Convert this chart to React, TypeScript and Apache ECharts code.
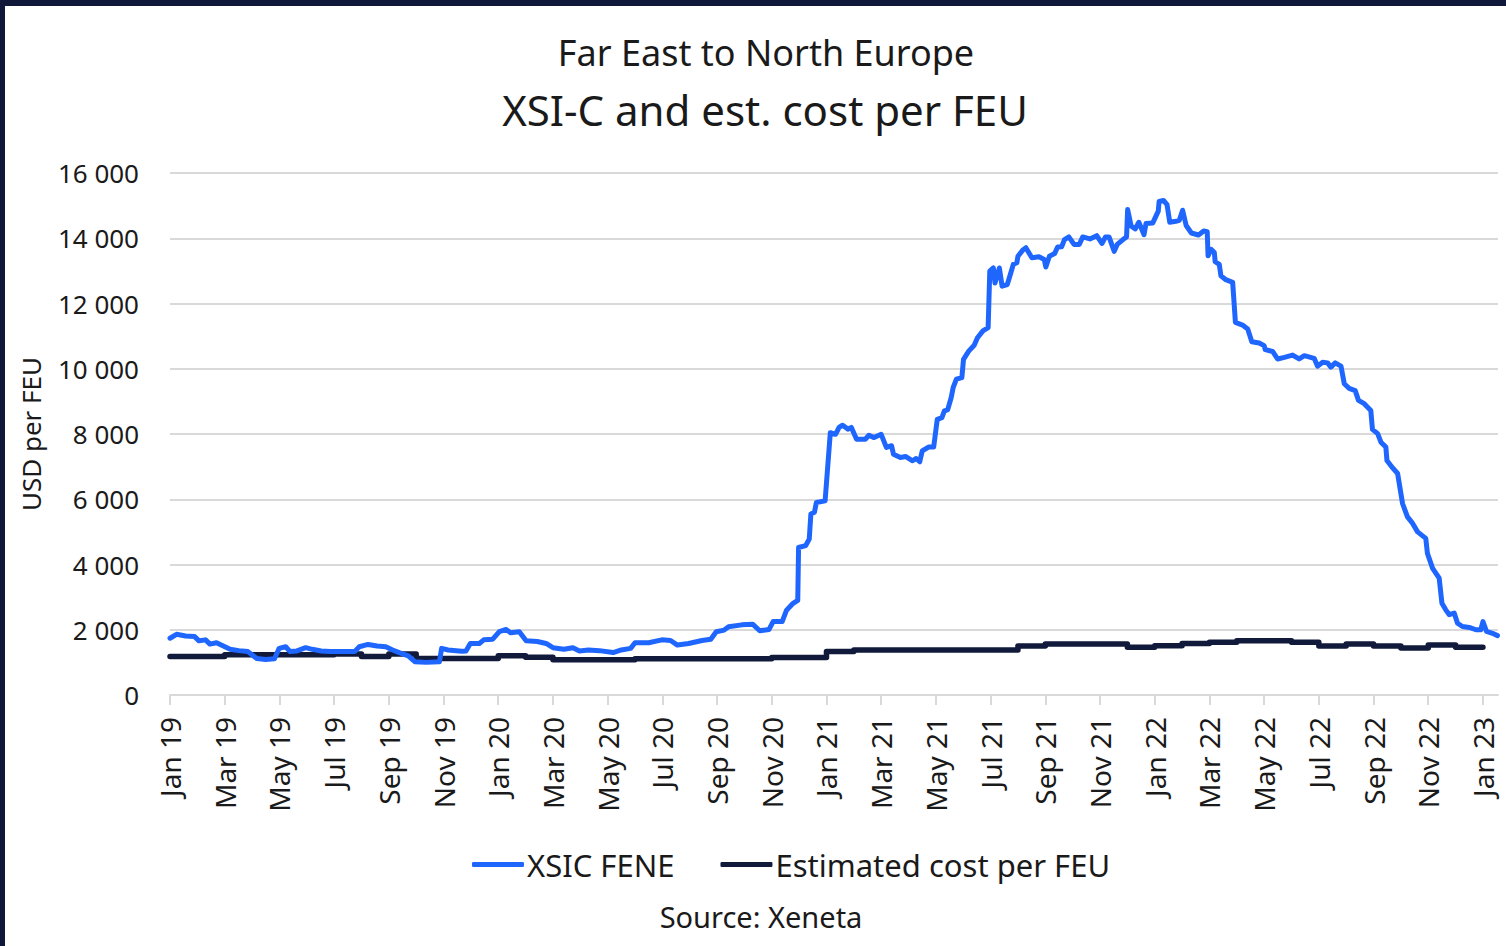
import React, { useEffect, useRef } from "react";
import * as echarts from "echarts";

// x positions are months since Jan 2019
const xTickMonths = [0, 2, 4, 6, 8, 10, 12, 14, 16, 18, 20, 22, 24, 26, 28, 30, 32, 34, 36, 38, 40, 42, 44, 46, 48];
const xTickLabels = [
  "Jan 19", "Mar 19", "May 19", "Jul 19", "Sep 19", "Nov 19",
  "Jan 20", "Mar 20", "May 20", "Jul 20", "Sep 20", "Nov 20",
  "Jan 21", "Mar 21", "May 21", "Jul 21", "Sep 21", "Nov 21",
  "Jan 22", "Mar 22", "May 22", "Jul 22", "Sep 22", "Nov 22",
  "Jan 23",
];

const xsicMonths = [
  0, 0.24, 0.57, 0.9, 1.06, 1.3, 1.46, 1.7, 1.95, 2.2, 2.52, 2.85, 3.17, 3.5, 3.82, 3.99, 4.23, 4.39, 4.64, 4.96,
  5.2, 5.53, 5.86, 6.27, 6.75, 6.92, 7.24, 7.57, 7.89, 8.14, 8.38, 8.71, 8.95, 9.36, 9.85, 9.93, 10.17, 10.66, 10.82, 10.98,
  11.31, 11.47, 11.8, 12.04, 12.29, 12.45, 12.77, 13.02, 13.43, 13.75, 14.0, 14.4, 14.73, 14.97, 15.3, 15.7, 16.2, 16.5, 16.84, 17.0,
  17.5, 17.98, 18.3, 18.55, 18.96, 19.45, 19.77, 19.97, 20.26, 20.42, 20.9, 21.3, 21.56, 21.9, 22.05, 22.38, 22.54, 22.78, 22.95, 22.98,
  23.24, 23.37, 23.43, 23.56, 23.63, 23.95, 24.14, 24.33, 24.46, 24.59, 24.78, 24.91, 25.1, 25.42, 25.55, 25.74, 26.0, 26.19, 26.38, 26.45,
  26.7, 26.9, 27.15, 27.28, 27.41, 27.5, 27.73, 27.92, 28.05, 28.22, 28.31, 28.43, 28.56, 28.63, 28.75, 28.95, 29.01, 29.2, 29.4, 29.52,
  29.72, 29.91, 29.97, 30.1, 30.16, 30.32, 30.42, 30.61, 30.74, 30.83, 30.96, 31.0, 31.19, 31.29, 31.51, 31.77, 31.96, 32.02, 32.15, 32.34,
  32.45, 32.6, 32.7, 32.86, 33.05, 33.24, 33.37, 33.63, 33.88, 34.07, 34.2, 34.33, 34.52, 34.63, 34.84, 34.97, 35.01, 35.14, 35.29, 35.42,
  35.61, 35.68, 35.93, 36.13, 36.16, 36.32, 36.45, 36.55, 36.77, 36.9, 37.02, 37.15, 37.34, 37.6, 37.79, 37.92, 37.95, 38.06, 38.18, 38.21,
  38.36, 38.42, 38.6, 38.85, 38.95, 39.21, 39.4, 39.55, 39.82, 40.0, 40.04, 40.31, 40.49, 40.74, 41.04, 41.28, 41.47, 41.83, 41.95, 42.14,
  42.32, 42.44, 42.6, 42.81, 42.93, 43.11, 43.33, 43.45, 43.66, 43.9, 43.96, 44.15, 44.27, 44.45, 44.49, 44.7, 44.88, 45.06, 45.24, 45.43,
  45.61, 45.91, 45.97, 46.16, 46.4, 46.5, 46.64, 46.77, 46.95, 47.07, 47.25, 47.5, 47.74, 47.92, 48.0, 48.13, 48.35, 48.53,
];
const xsicValues = [
  1740, 1860, 1810, 1790, 1660, 1690, 1560, 1600, 1500, 1400, 1360, 1330, 1120, 1090, 1110, 1430, 1480, 1330, 1350, 1450,
  1400, 1350, 1330, 1330, 1330, 1480, 1550, 1500, 1480, 1380, 1300, 1200, 1020, 1000, 1020, 1430, 1380, 1340, 1350, 1580,
  1580, 1690, 1710, 1940, 2010, 1910, 1940, 1660, 1640, 1580, 1450, 1400, 1450, 1350, 1380, 1360, 1300, 1380, 1430, 1600,
  1600, 1690, 1670, 1530, 1580, 1670, 1710, 1940, 1990, 2090, 2150, 2170, 1970, 2010, 2250, 2250, 2600, 2810, 2900, 4520,
  4580, 4780, 5550, 5600, 5900, 5950, 8040, 7990, 8200, 8270, 8150, 8200, 7840, 7840, 7960, 7890, 7990, 7590, 7640, 7380,
  7280, 7310, 7180, 7250, 7150, 7480, 7600, 7600, 8450, 8500, 8710, 8740, 9120, 9420, 9680, 9730, 10290, 10540, 10720, 10950,
  11160, 11260, 12990, 13090, 12630, 13090, 12530, 12580, 12940, 13200, 13250, 13450, 13650, 13710, 13400, 13430, 13350, 13120, 13450, 13530,
  13730, 13740, 13960, 14040, 13810, 13810, 14040, 13980, 14080, 13840, 14040, 14040, 13600, 13810, 13960, 14040, 14880, 14370, 14290, 14490,
  14110, 14450, 14470, 14830, 15130, 15160, 15030, 14490, 14520, 14550, 14860, 14390, 14160, 14100, 14220, 14200, 13460, 13660, 13560, 13280,
  13200, 12850, 12730, 12650, 11420, 11340, 11220, 10830, 10790, 10710, 10590, 10530, 10300, 10350, 10420, 10300, 10400, 10320, 10080, 10200,
  10180, 10050, 10180, 10080, 9540, 9400, 9330, 9030, 8930, 8720, 8140, 8010, 7750, 7600, 7190, 6960, 6790, 5870, 5460, 5260,
  5000, 4800, 4340, 3880, 3580, 2810, 2610, 2460, 2510, 2200, 2100, 2070, 2000, 2000, 2250, 1950, 1890, 1820,
];

const costMonths = [
  0, 1, 2, 3, 4, 5, 6, 7, 8, 9, 10, 11, 12, 13, 14, 15, 16, 17, 18, 19, 20, 21, 22, 23, 24,
  25, 26, 27, 28, 29, 30, 31, 32, 33, 34, 35, 36, 37, 38, 39, 40, 41, 42, 43, 44, 45, 46, 47, 48,
];
const costValues = [
  1180, 1180, 1230, 1230, 1230, 1230, 1260, 1180, 1260, 1120, 1120, 1120, 1200, 1160, 1080, 1080, 1080, 1110, 1110, 1110,
  1110, 1110, 1150, 1150, 1330, 1380, 1380, 1380, 1380, 1380, 1380, 1500, 1560, 1560, 1560, 1460, 1510, 1580, 1620, 1660,
  1660, 1620, 1500, 1560, 1500, 1440, 1530, 1460, 1460,
];

const seriesNames = ["XSIC FENE", "Estimated cost per FEU"];
const FONT = "'Noto Sans', sans-serif";
const BLUE = "#1f66ff";
const NAVY = "#111a3b";
const TEXT = "#1a1a1a";
const GRID = "#d9d9d9";

function fmtThousands(v: number): string {
  return String(v).replace(/\B(?=(\d{3})+(?!\d))/g, " ");
}

export default function App() {
  const ref = useRef<HTMLDivElement>(null);
  useEffect(() => {
    if (!ref.current) return;
    const chart = echarts.init(ref.current, undefined, { renderer: "svg" });
    const option: any = {
      animation: false,
      backgroundColor: "#ffffff",
      textStyle: { fontFamily: FONT },
      title: [
        {
          text: "Far East to North Europe",
          left: 766,
          top: 34,
          textAlign: "center",
          padding: 0,
          textStyle: { fontSize: 36, fontWeight: "normal", color: TEXT, fontFamily: FONT },
        },
        {
          text: "XSI-C and est. cost per FEU",
          left: 765,
          top: 88,
          textAlign: "center",
          padding: 0,
          textStyle: { fontSize: 42, fontWeight: "normal", color: TEXT, fontFamily: FONT },
        },
        {
          text: "Source: Xeneta",
          left: 761,
          top: 902,
          textAlign: "center",
          padding: 0,
          textStyle: { fontSize: 29, fontWeight: "normal", color: TEXT, fontFamily: FONT },
        },
      ],
      legend: {
        left: 472,
        top: 849,
        padding: 0,
        itemGap: 46,
        itemWidth: 52,
        itemHeight: 5,
        icon: "roundRect",
        data: seriesNames,
        textStyle: { fontSize: 31, color: TEXT, fontFamily: FONT, padding: [0, 0, 0, -2] },
      },
      grid: { left: 170, right: 8, top: 173, bottom: 251 },
      xAxis: {
        type: "value",
        min: 0,
        max: 48.55,
        axisLine: { show: true, lineStyle: { color: GRID, width: 2 } },
        axisTick: { show: true, length: 10, customValues: xTickMonths, lineStyle: { color: GRID, width: 2 } },
        splitLine: { show: false },
        axisLabel: {
          customValues: xTickMonths,
          rotate: 90,
          margin: 22,
          fontSize: 28,
          color: TEXT,
          fontFamily: FONT,
          formatter: (v: number) => {
            const i = xTickMonths.indexOf(Math.round(v));
            return i >= 0 ? xTickLabels[i] : "";
          },
        },
      },
      yAxis: {
        type: "value",
        min: 0,
        max: 16000,
        interval: 2000,
        name: "USD per FEU",
        nameLocation: "middle",
        nameRotate: 90,
        nameGap: 126,
        nameTextStyle: { fontSize: 26, color: TEXT, fontFamily: FONT },
        axisLine: { show: false },
        axisTick: { show: false },
        splitLine: { show: true, lineStyle: { color: GRID, width: 2 } },
        axisLabel: {
          margin: 31,
          fontSize: 26,
          color: TEXT,
          fontFamily: FONT,
          formatter: (v: number) => fmtThousands(v),
        },
      },
      series: [
        {
          name: seriesNames[0],
          type: "line",
          symbol: "none",
          color: BLUE,
          lineStyle: { color: BLUE, width: 5, cap: "round", join: "round" },
          data: xsicMonths.map((m, i) => [m, xsicValues[i]]),
          z: 3,
        },
        {
          name: seriesNames[1],
          type: "line",
          symbol: "none",
          step: "end",
          color: NAVY,
          lineStyle: { color: NAVY, width: 5.5, cap: "round", join: "round" },
          data: costMonths.map((m, i) => [m, costValues[i]]),
          z: 2,
        },
      ],
      graphic: [
        { type: "rect", left: 0, top: 0, shape: { width: 1506, height: 6 }, style: { fill: "#0f1838" }, z: 100 },
        { type: "rect", left: 0, top: 0, shape: { width: 5, height: 946 }, style: { fill: "#0f1838" }, z: 100 },
      ],
    };
    chart.setOption(option);
    return () => chart.dispose();
  }, []);
  return (
    <div
      ref={ref}
      style={{ position: "fixed", left: 0, top: 0, width: 1506, height: 946, background: "#fff" }}
    />
  );
}
